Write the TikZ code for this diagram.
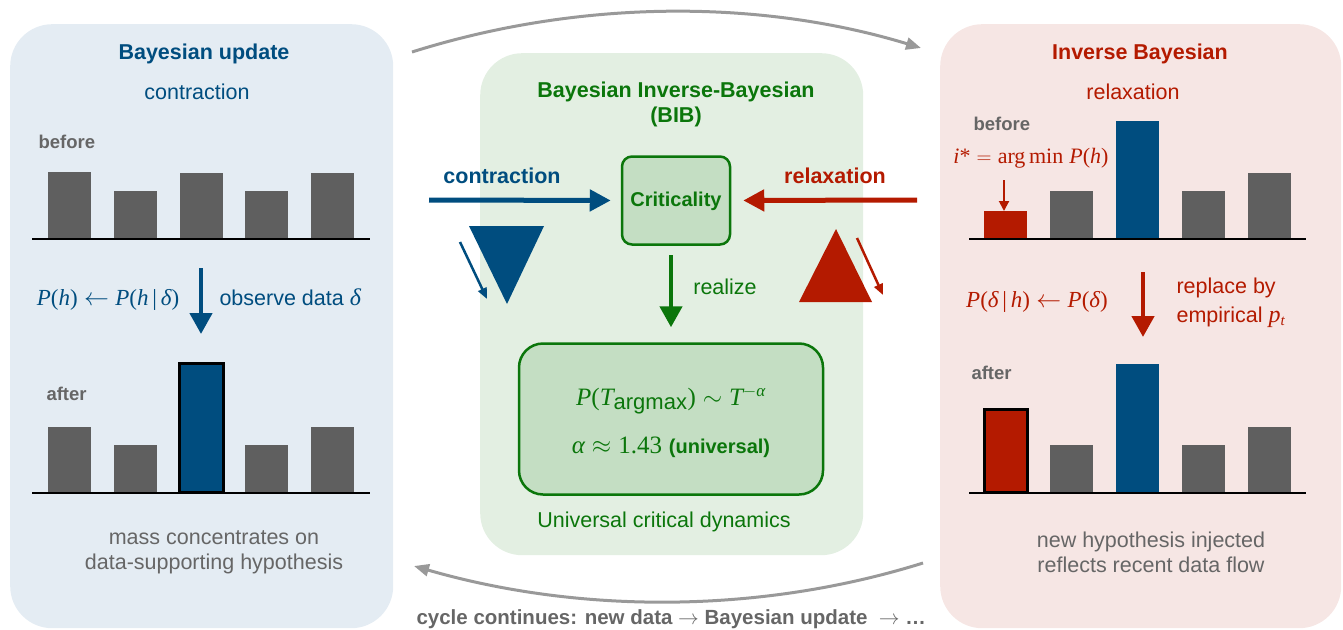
\documentclass[tikz,border=0pt]{standalone}
\usepackage{amsmath}
\usepackage{fontspec}
\setmainfont{Liberation Sans}
\newfontfamily\tms{Liberation Serif}
\usetikzlibrary{arrows.meta}

\definecolor{bblue}{HTML}{004D7F}
\definecolor{bred}{HTML}{B41A00}
\definecolor{bgreen}{HTML}{0B760B}
\definecolor{bargray}{HTML}{5F5F5F}
\definecolor{txtgray}{HTML}{666666}
\definecolor{panelblue}{HTML}{E4ECF3}
\definecolor{panelgreen}{HTML}{E3EFE2}
\definecolor{panelred}{HTML}{F6E6E4}
\definecolor{boxgreen}{HTML}{C4DEC3}
\definecolor{arcgray}{HTML}{999999}

\newcommand{\fs}[1]{\fontsize{#1}{#1}\selectfont}
% serif formula pieces: italic variables, upright symbols
\newcommand{\vi}[1]{{\tms\itshape #1}}
\newcommand{\vu}[1]{{\tms #1}}

\begin{document}
\begin{tikzpicture}[x=1pt,y=-1pt,
  panel/.style={rounded corners=42pt, draw=none, anchor=north west, inner sep=0pt},
  ttl/.style={font=\fs{21.5}\bfseries},
  sub/.style={font=\fs{21.5}},
  lbl/.style={font=\fs{18.5}\bfseries, text=txtgray, anchor=west},
  note/.style={font=\fontsize{21.5}{25}\selectfont, text=txtgray, align=center},
  mth/.style={font=\fs{23}},
  bigarrow/.style={line width=5pt, -{Triangle[length=21pt,width=21pt]}},
  midarrow/.style={line width=4.5pt, -{Triangle[length=21pt,width=22pt]}},
  thinarrow/.style={line width=2.5pt, -{Triangle[length=11pt,width=9pt]}},
  arc/.style={line width=3pt, draw=arcgray, -{Triangle[length=15pt,width=12pt]}},
  axis/.style={line width=1.3pt, draw=black},
  hl/.style={line width=2.5pt, draw=black}
]
\useasboundingbox (0,0) rectangle (1343,629);

% ---------- panels ----------
\node[panel, fill=panelblue,  minimum width=383pt, minimum height=604pt] (leftpanel)  at (10,24)  {};
\node[panel, fill=panelgreen, minimum width=383pt, minimum height=502pt] (midpanel)   at (480,53) {};
\node[panel, fill=panelred,   minimum width=401pt, minimum height=604pt] (rightpanel) at (940,24) {};

% ---------- left panel: Bayesian update ----------
\node[ttl, text=bblue] (lt) at (204,54) {Bayesian update};
\node[sub, text=bblue] (ls) at (197,92) {contraction};
\node[lbl] (lb) at (35,142) {before};
\foreach \x/\t in {48/172,114/191,180/173,245/191,311/173}
  \fill[bargray] (\x,239) rectangle (\x+43,\t);
\draw[axis] (32,239) -- (370,239);

\coordinate (ldA) at (201,268);
\coordinate (ldB) at (201,334);
\draw[midarrow, color=bblue] (ldA) -- (ldB);
\node[mth, text=bblue] (lm) at (108,300)
  {\vi{P}\vu{(}\vi{h}\vu{)} $\leftarrow$ \vi{P}\vu{(}\vi{h}\,\vu{|}\,\vi{δ}\vu{)}};
\node[sub, text=bblue, anchor=west] (lo) at (216,297) {observe data \vi{\fs{24}δ}};

\node[lbl] (la) at (43,394) {after};
\foreach \x/\t in {48/427,114/445,245/445,311/427}
  \fill[bargray] (\x,493) rectangle (\x+43,\t);
\draw[hl, fill=bblue] (179.5,492) rectangle (223.5,363.5);
\draw[axis] (32,493) -- (370,493);
\node[note] (ln) at (214,552) {mass concentrates on\\data-supporting hypothesis};

% ---------- right panel: Inverse Bayesian ----------
\node[ttl, text=bred] (rt) at (1140,54) {Inverse Bayesian};
\node[sub, text=bred] (rs) at (1133,92) {relaxation};
\node[lbl] (rb) at (970,124) {before};
\node[font=\fs{22}, text=bred] (ri) at (1031,158)
  {\vi{i}\vu{*} $=$ \vu{arg\,min} \vi{P}\vu{(}\vi{h}\vu{)}};
\coordinate (riA) at (1004,180);
\coordinate (riB) at (1004,211);
\draw[line width=2pt, bred, -{Triangle[length=10pt,width=10pt]}] (riA) -- (riB);
\fill[bred] (984,239) rectangle (1027,211);
\foreach \x/\t in {1050/191,1182/191,1248/173}
  \fill[bargray] (\x,239) rectangle (\x+43,\t);
\fill[bblue] (1116,239) rectangle (1159,121);
\draw[axis] (969,239) -- (1306,239);

\coordinate (rdA) at (1143,272);
\coordinate (rdB) at (1143,337);
\draw[midarrow, color=bred] (rdA) -- (rdB);
\node[mth, text=bred] (rm) at (1037,302)
  {\vi{P}\vu{(}\vi{δ}\,\vu{|}\,\vi{h}\vu{)} $\leftarrow$ \vi{P}\vu{(}\vi{δ}\vu{)}};
\node[font=\fontsize{21.5}{29}\selectfont, text=bred, anchor=west, align=left] (rr) at (1173,303)
  {replace by\\empirical \vi{\fs{24}p}$_{\text{\vi{t}}}$};

\node[lbl] (ra) at (968,373) {after};
\foreach \x/\t in {1050/445,1182/445,1248/427}
  \fill[bargray] (\x,493) rectangle (\x+43,\t);
\fill[bblue] (1116,493) rectangle (1159,364);
\draw[hl, fill=bred] (984.5,492) rectangle (1027.5,409.5);
\draw[axis] (969,493) -- (1306,493);
\node[note] (rn) at (1151,552) {new hypothesis injected\\reflects recent data flow};

% ---------- middle panel: BIB ----------
\node[font=\fontsize{21.5}{25}\selectfont\bfseries, text=bgreen, align=center] (mt) at (676,104)
  {Bayesian Inverse-Bayesian\\(BIB)};
\node[draw=bgreen, line width=2.5pt, fill=boxgreen, rounded corners=10pt,
      minimum width=108pt, minimum height=88pt, inner sep=0pt] (crit) at (676,200.5) {};
\node[font=\fs{20}\bfseries, text=bgreen] (critlabel) at (676,201) {Criticality};

\coordinate (cA) at (429,200);
\draw[bigarrow, color=bblue, shorten >=10pt] (cA) -- (crit.west);
\node[font=\fs{21.5}\bfseries, text=bblue] (cl) at (502,176) {contraction};
\coordinate (rA) at (917,200);
\draw[bigarrow, color=bred, shorten >=12pt] (rA) -- (crit.east);
\node[font=\fs{21.5}\bfseries, text=bred] (rl) at (835,176) {relaxation};

% contraction / relaxation wedges
\fill[bblue] (469,226) -- (544,226) -- (507,304) -- cycle;
\coordinate (sbA) at (460,242);
\coordinate (sbB) at (487,299);
\draw[thinarrow, color=bblue] (sbA) -- (sbB);
\fill[bred] (799,302) -- (872,302) -- (836,229) -- cycle;
\coordinate (srA) at (857,238);
\coordinate (srB) at (883,295);
\draw[thinarrow, color=bred] (srA) -- (srB);

\node[draw=bgreen, line width=2.5pt, fill=boxgreen, rounded corners=24pt,
      minimum width=304pt, minimum height=151pt, inner sep=0pt] (law) at (671,419) {};
\node[text=bgreen, align=center] (lawtext) at (671,422)
      {\fs{25}\vi{P}\vu{(}\vi{T}$_{\text{\fs{22}argmax}}$\vu{)} $\sim$ \vi{T}$^{\text{\fs{17}$-$\vi{α}}}$\\[22pt]
       \fs{25}\vi{α} $\approx$ \vu{1.43} {\fs{20}\bfseries(universal)}};
\coordinate (gA) at (671,255);
\draw[midarrow, color=bgreen, shorten >=15pt] (gA) -- (law.north);
\node[sub, text=bgreen] (rz) at (725,287) {realize};
\node[sub, text=bgreen] (ud) at (664,522) {Universal critical dynamics};

% ---------- cycle arcs ----------
\coordinate (tA) at (412,52);
\coordinate (tB) at (921,48);
\draw[arc] (tA) .. controls (580,-1) and (760,-1) .. (tB);
\coordinate (bA) at (923,563);
\coordinate (bB) at (414,566);
\draw[arc] (bA) .. controls (760,614) and (580,614) .. (bB);
\node[font=\fs{20.5}\bfseries, text=txtgray, anchor=west] (cy) at (413,619)
  {cycle continues: new data $\rightarrow$ Bayesian update \ $\rightarrow$ \dots};
\end{tikzpicture}
\end{document}
